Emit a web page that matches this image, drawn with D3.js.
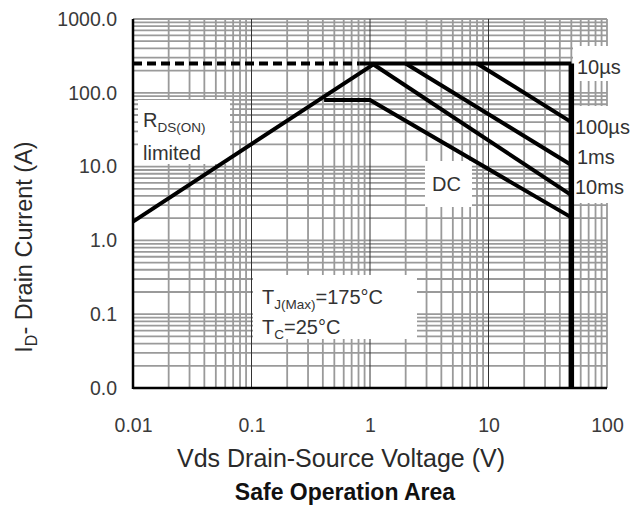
<!DOCTYPE html>
<html>
<head>
<meta charset="utf-8">
<script src="https://cdn.jsdelivr.net/npm/d3@7"></script>
<style>
  html, body { margin: 0; padding: 0; background: #fff; }
  svg { display: block; font-family: "Liberation Sans", Arial, sans-serif; }
</style>
</head>
<body>
<svg id="chart" width="637" height="508"></svg>
<script>
// ---- data ----
const xTickValues = [0.01, 0.1, 1, 10, 100];
const xTickLabels = ["0.01", "0.1", "1", "10", "100"];
const yTickValues = [0.01, 0.1, 1, 10, 100, 1000];
const yTickLabels = ["0.0", "0.1", "1.0", "10.0", "100.0", "1000.0"];

// SOA boundary curves (Vds in V, Id in A)
const rdsOnLine   = [[0.01, 1.8], [1.1, 250]];
const limitDashed = [[0.01, 250], [0.82, 250]];
const limitSolid  = [[0.82, 250], [50, 250]];
const vdsMaxLine  = [[50, 250], [50, 0.01]];
const pulse100us  = [[8, 250], [50, 40]];
const pulse1ms    = [[2, 250], [50, 10.5]];
const pulse10ms   = [[1.08, 240], [50, 4.1]];
const dcLine      = [[0.41, 80], [1, 80], [50, 2.05]];

const curveLabels = ["10\u00b5s", "100\u00b5s", "1ms", "10ms"];

// ---- layout ----
const svg = d3.select("#chart");
const x = d3.scaleLog().domain([0.01, 100]).range([133, 607]);
const y = d3.scaleLog().domain([0.01, 1000]).range([388, 19]);

// grid
const grid = svg.append("g");
const minorX = [], minorY = [];
[0.01, 0.1, 1, 10].forEach(d => { for (let m = 2; m <= 9; m++) minorX.push(d * m); });
[0.01, 0.1, 1, 10, 100].forEach(d => { for (let m = 1; m <= 9; m++) minorY.push(d * m); });
minorY.push(1000);
grid.selectAll("line.gy").data(minorY).join("line")
  .attr("x1", x(0.01)).attr("x2", x(100))
  .attr("y1", d => y(d)).attr("y2", d => y(d))
  .attr("stroke", "#9a9a9a").attr("stroke-width", 1.8);
grid.selectAll("line.gx").data(minorX).join("line")
  .attr("x1", d => x(d)).attr("x2", d => x(d))
  .attr("y1", y(1000)).attr("y2", y(0.01))
  .attr("stroke", "#9a9a9a").attr("stroke-width", 1.8);
grid.append("line").attr("x1", x(100)).attr("x2", x(100)).attr("y1", y(1000)).attr("y2", y(0.01))
  .attr("stroke", "#9a9a9a").attr("stroke-width", 1.8);
grid.selectAll("line.mx").data([0.1, 1, 10]).join("line")
  .attr("x1", d => x(d)).attr("x2", d => x(d))
  .attr("y1", y(1000)).attr("y2", y(0.01))
  .attr("stroke", "#333").attr("stroke-width", 1);

// white annotation boxes
const boxes = [
  [138, 100, 92, 64],   // RDS(on)
  [425, 161, 47, 46],   // DC
  [253, 275, 164, 64],  // Tj / Tc
  [573, 46, 64, 35],    // 10us
  [573, 106, 64, 97]    // 100us..10ms
];
svg.append("g").selectAll("rect").data(boxes).join("rect")
  .attr("x", d => d[0]).attr("y", d => d[1]).attr("width", d => d[2]).attr("height", d => d[3])
  .attr("fill", "#fff");

// frame (left & bottom black)
svg.append("line").attr("x1", x(0.01)).attr("x2", x(0.01)).attr("y1", y(1000)).attr("y2", y(0.01) + 1)
  .attr("stroke", "#000").attr("stroke-width", 2.5);
svg.append("line").attr("x1", x(0.01)).attr("x2", x(100)).attr("y1", y(0.01)).attr("y2", y(0.01))
  .attr("stroke", "#000").attr("stroke-width", 2.5);

// curves
const line = d3.line().x(d => x(d[0])).y(d => y(d[1]));
const curves = svg.append("g").attr("fill", "none").attr("stroke", "#000");
curves.append("path").attr("d", line(limitDashed)).attr("stroke-width", 4).attr("stroke-dasharray", "9,5");
[rdsOnLine, limitSolid, pulse100us, pulse1ms, pulse10ms, dcLine].forEach(c =>
  curves.append("path").attr("d", line(c)).attr("stroke-width", 4).attr("stroke-linejoin", "miter"));
curves.append("path").attr("d", line(vdsMaxLine)).attr("stroke-width", 5.5);

// axes
const xAxis = svg.append("g").attr("transform", `translate(0,${y(0.01)})`)
  .call(d3.axisBottom(x).tickValues(xTickValues).tickFormat((d, i) => xTickLabels[i]).tickSize(0).tickPadding(30));
const yAxis = svg.append("g").attr("transform", `translate(${x(0.01)},0)`)
  .call(d3.axisLeft(y).tickValues(yTickValues).tickFormat((d, i) => yTickLabels[i]).tickSize(0).tickPadding(16));
[xAxis, yAxis].forEach(a => {
  a.select(".domain").remove();
  a.selectAll("text").attr("font-size", 19.5).attr("fill", "#3a3a3a")
    .attr("font-family", "'Liberation Sans', Arial, sans-serif");
});

// axis titles
svg.append("text").attr("x", 341).attr("y", 467).attr("text-anchor", "middle")
  .attr("font-size", 25).attr("fill", "#2a2a2a").text("Vds Drain-Source Voltage (V)");
svg.append("text").attr("x", 345).attr("y", 500).attr("text-anchor", "middle")
  .attr("font-size", 23).attr("font-weight", "bold").attr("fill", "#111").text("Safe Operation Area");
const yt = svg.append("text").attr("transform", "translate(32,247) rotate(-90)").attr("text-anchor", "middle")
  .attr("font-size", 23.5).attr("fill", "#2a2a2a");
yt.append("tspan").text("I");
yt.append("tspan").attr("font-size", 16).attr("dy", 5).text("D");
yt.append("tspan").attr("dy", -5).text("- Drain Current (A)");

// annotations
const ann = svg.append("g").attr("fill", "#333").attr("font-size", 20);
const r = ann.append("text").attr("x", 143).attr("y", 127);
r.append("tspan").text("R");
r.append("tspan").attr("font-size", 13.5).attr("dy", 5).text("DS(ON)");
ann.append("text").attr("x", 143).attr("y", 160).text("limited");
ann.append("text").attr("x", 432).attr("y", 191).text("DC");
const tj = ann.append("text").attr("x", 262).attr("y", 304);
tj.append("tspan").text("T");
tj.append("tspan").attr("font-size", 13.5).attr("dy", 5).text("J(Max)");
tj.append("tspan").attr("dy", -5).text("=175\u00b0C");
const tc = ann.append("text").attr("x", 262).attr("y", 334);
tc.append("tspan").text("T");
tc.append("tspan").attr("font-size", 13.5).attr("dy", 5).text("C");
tc.append("tspan").attr("dy", -5).text("=25\u00b0C");

// curve labels at right
const labelY = [74, 134, 164, 194];
ann.selectAll("text.cl").data(curveLabels).join("text")
  .attr("x", (d, i) => i === 1 || i === 3 ? 575 : 577)
  .attr("y", (d, i) => labelY[i]).text(d => d);
</script>
</body>
</html>
